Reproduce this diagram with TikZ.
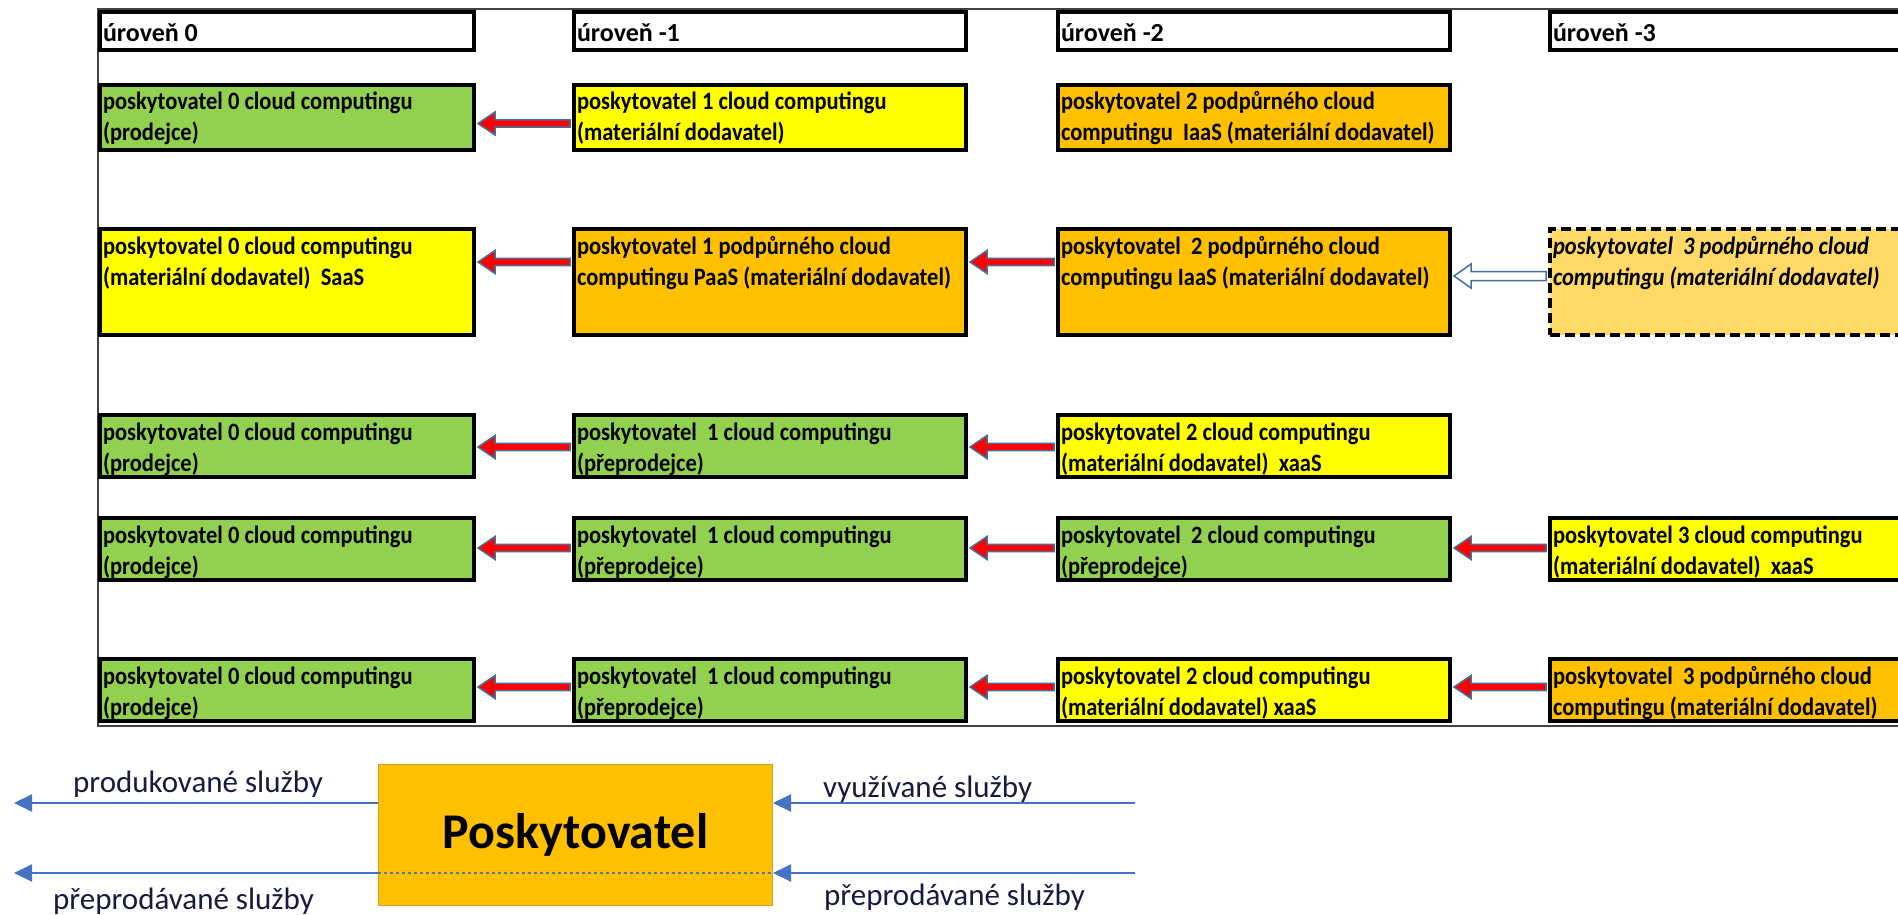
\documentclass[tikz,border=0pt]{standalone}
\usepackage{fontspec}
\setmainfont{Carlito}
\newfontfamily\cellfont[FakeStretch=0.9]{Carlito}
\usetikzlibrary{arrows.meta,calc}
\definecolor{cgreen}{HTML}{92D050}
\definecolor{cyellow}{HTML}{FFFF00}
\definecolor{corange}{HTML}{FFC000}
\definecolor{clight}{HTML}{FFD966}
\definecolor{arrline}{HTML}{41719C}
\definecolor{legblue}{HTML}{4472C4}
\definecolor{legtext}{HTML}{1A1A40}
\definecolor{framegray}{HTML}{404040}
\definecolor{provborder}{HTML}{C9A227}
\newcommand\celltxt[4]{\parbox[t][#2pt][t]{#1pt}{\rule{0pt}{25pt}\mbox{#3}\\\mbox{#4}}}
\newcommand\hdrtxt[3]{\parbox[t][#2pt][t]{#1pt}{\rule{0pt}{30pt}\mbox{#3}}}
\newcommand\blockarr[6]{%
  \draw[#4] let \p1=($(#2.north east)+(4,#3)$), \p2=($(#1.north west)+(-4,#3)$) in
  (\x1,\y1) -- (\x1+17pt,\y1+#5pt) -- (\x1+17pt,\y1+#6pt) -- (\x2,\y1+#6pt)
  -- (\x2,\y1-#6pt) -- (\x1+17pt,\y1-#6pt) -- (\x1+17pt,\y1-#5pt) -- cycle;}
\tikzset{
  cell/.style={draw=black, line width=3.5pt, anchor=north west, inner xsep=3pt,
    inner ysep=0pt, outer sep=0pt, font=\cellfont\bfseries\fontsize{25}{31}\selectfont},
  hdr/.style={draw=black, line width=3.5pt, anchor=north west, inner xsep=3pt,
    inner ysep=0pt, outer sep=0pt, fill=white, font=\bfseries\fontsize{26}{31}\selectfont},
  dashcell/.style={cell, dash pattern=on 10pt off 5pt,
    font=\cellfont\bfseries\itshape\fontsize{25}{31}\selectfont},
  redarr/.style={fill=red, draw=arrline, line width=1.5pt, line join=miter},
  hollowarr/.style={fill=white, draw=arrline, line width=1.5pt, line join=miter},
  legarrow/.style={draw=legblue, line width=2pt, -{Triangle[length=18pt,width=17pt]}},
  leglabel/.style={anchor=base west, inner sep=0pt, text=legtext, font=\fontsize{31}{37}\selectfont}
}
\begin{document}
\begin{tikzpicture}[x=1pt,y=-1pt]
\useasboundingbox (0,0) rectangle (1898,915);
\clip (0,0) rectangle (1898,915);
\fill[white] (0,0) rectangle (1898,915);
% outer frame
\draw[framegray, line width=2pt] (1910,9) -- (98,9) -- (98,726) -- (1910,726);
% headers
\node[hdr] (h0) at (100,12) {\hdrtxt{368}{38}{úroveň 0}};
\node[hdr] (h1) at (574,12) {\hdrtxt{386}{38}{úroveň -1}};
\node[hdr] (h2) at (1058,12) {\hdrtxt{386}{38}{úroveň -2}};
\node[hdr] (h3) at (1550,12) {\hdrtxt{394}{38}{úroveň -3}};
% row 1
\node[cell, fill=cgreen] (r1c0) at (100,85) {\celltxt{368}{65}{poskytovatel 0 cloud computingu}{(prodejce)}};
\node[cell, fill=cyellow] (r1c1) at (574,85) {\celltxt{386}{65}{poskytovatel 1 cloud computingu}{(materiální dodavatel)}};
\node[cell, fill=corange] (r1c2) at (1058,85) {\celltxt{386}{65}{poskytovatel 2 podpůrného cloud}{computingu\ \ IaaS (materiální dodavatel)}};
% row 2
\node[cell, fill=cyellow] (r2c0) at (100,229) {\celltxt{368}{106}{poskytovatel 0 cloud computingu}{(materiální dodavatel)\ \ SaaS}};
\node[cell, fill=corange] (r2c1) at (574,229) {\celltxt{386}{106}{poskytovatel 1 podpůrného cloud}{computingu PaaS (materiální dodavatel)}};
\node[cell, fill=corange] (r2c2) at (1058,229) {\celltxt{386}{106}{poskytovatel\ \ 2 podpůrného cloud}{computingu IaaS (materiální dodavatel)}};
\node[dashcell, fill=clight] (r2c3) at (1550,229) {\celltxt{394}{106}{poskytovatel\ \ 3 podpůrného cloud}{computingu (materiální dodavatel)}};
% row 3
\node[cell, fill=cgreen] (r3c0) at (100,415) {\celltxt{368}{62}{poskytovatel 0 cloud computingu}{(prodejce)}};
\node[cell, fill=cgreen] (r3c1) at (574,415) {\celltxt{386}{62}{poskytovatel\ \ 1 cloud computingu}{(přeprodejce)}};
\node[cell, fill=cyellow] (r3c2) at (1058,415) {\celltxt{386}{62}{poskytovatel 2 cloud computingu}{(materiální dodavatel)\ \ xaaS}};
% row 4
\node[cell, fill=cgreen] (r4c0) at (100,518) {\celltxt{368}{62}{poskytovatel 0 cloud computingu}{(prodejce)}};
\node[cell, fill=cgreen] (r4c1) at (574,518) {\celltxt{386}{62}{poskytovatel\ \ 1 cloud computingu}{(přeprodejce)}};
\node[cell, fill=cgreen] (r4c2) at (1058,518) {\celltxt{386}{62}{poskytovatel\ \ 2 cloud computingu}{(přeprodejce)}};
\node[cell, fill=cyellow] (r4c3) at (1550,518) {\celltxt{394}{62}{poskytovatel 3 cloud computingu}{(materiální dodavatel)\ \ xaaS}};
% row 5
\node[cell, fill=cgreen] (r5c0) at (100,659) {\celltxt{368}{62}{poskytovatel 0 cloud computingu}{(prodejce)}};
\node[cell, fill=cgreen] (r5c1) at (574,659) {\celltxt{386}{62}{poskytovatel\ \ 1 cloud computingu}{(přeprodejce)}};
\node[cell, fill=cyellow] (r5c2) at (1058,659) {\celltxt{386}{62}{poskytovatel 2 cloud computingu}{(materiální dodavatel) xaaS}};
\node[cell, fill=corange] (r5c3) at (1550,659) {\celltxt{394}{62}{poskytovatel\ \ 3 podpůrného cloud}{computingu (materiální dodavatel)}};
% arrows
\blockarr{r1c1}{r1c0}{38.5}{redarr}{11.5}{3.7}
\blockarr{r2c1}{r2c0}{33}{redarr}{11.5}{3.7}
\blockarr{r2c2}{r2c1}{33}{redarr}{11.5}{3.7}
\blockarr{r2c3}{r2c2}{47}{hollowarr}{12}{4.5}
\blockarr{r3c1}{r3c0}{32}{redarr}{11.5}{3.7}
\blockarr{r3c2}{r3c1}{32}{redarr}{11.5}{3.7}
\blockarr{r4c1}{r4c0}{30}{redarr}{11.5}{3.7}
\blockarr{r4c2}{r4c1}{30}{redarr}{11.5}{3.7}
\blockarr{r4c3}{r4c2}{30}{redarr}{11.5}{3.7}
\blockarr{r5c1}{r5c0}{28}{redarr}{11.5}{3.7}
\blockarr{r5c2}{r5c1}{28}{redarr}{11.5}{3.7}
\blockarr{r5c3}{r5c2}{28}{redarr}{11.5}{3.7}
% legend
\node[draw=provborder, fill=corange, line width=1pt, minimum width=394, minimum height=141,
  anchor=north west, inner sep=0pt, font=\bfseries\fontsize{50}{60}\selectfont] (prov) at (378,764) {Poskytovatel};
\coordinate (L1) at (14,803);
\coordinate (R1) at (1135,803);
\coordinate (L2) at (14,873);
\coordinate (R2) at (1135,873);
\draw[legarrow] (prov.west |- L1) -- (L1);
\draw[legarrow] (R1) -- (prov.east |- R1);
\draw[legarrow] (prov.west |- L2) -- (L2);
\draw[legarrow] (R2) -- (prov.east |- R2);
\draw[dashed, draw=legblue!60!gray, line width=1.2pt] (prov.west |- L2) -- (prov.east |- R2);
\node[leglabel] (lprod) at (73,792) {produkované služby};
\node[leglabel] (lvyu) at (823,797) {využívané služby};
\node[leglabel] (lpre1) at (53,909) {přeprodávané služby};
\node[leglabel] (lpre2) at (824,905) {přeprodávané služby};
\end{tikzpicture}
\end{document}
